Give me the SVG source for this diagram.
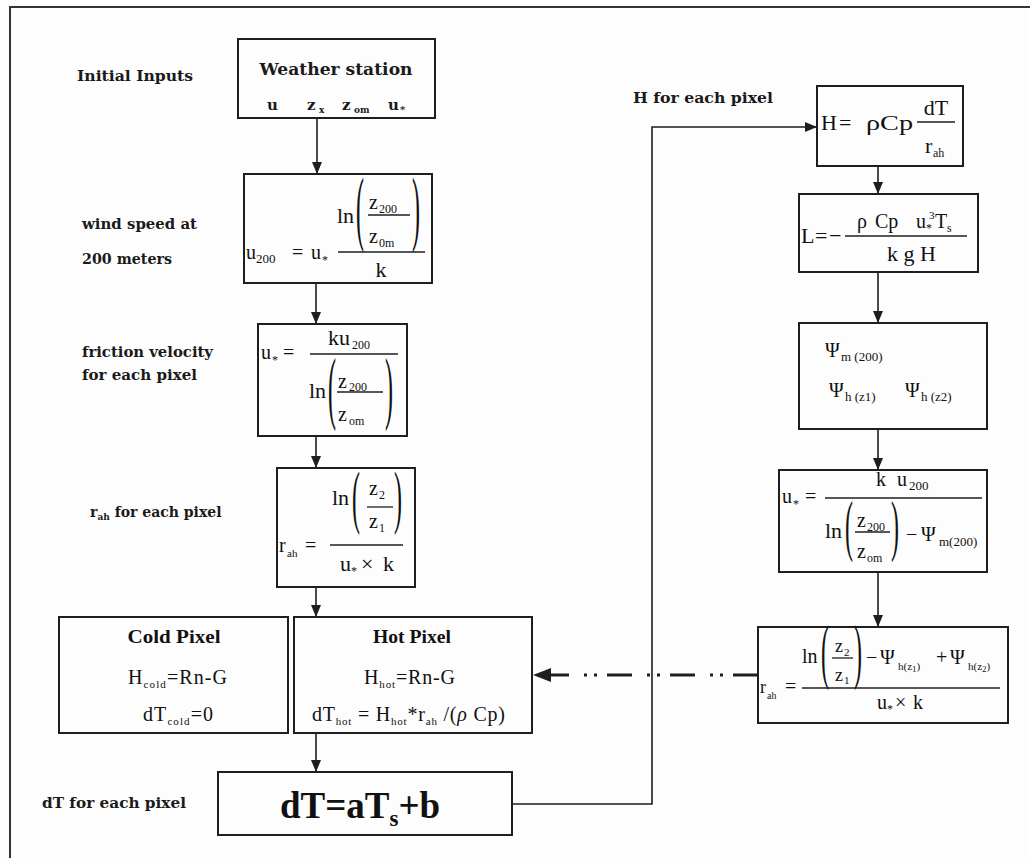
<svg xmlns="http://www.w3.org/2000/svg" width="1030" height="858" viewBox="0 0 1030 858">
<style>
.bx{fill:none;stroke:#1e1e1e;stroke-width:2}
.fb{stroke:#1e1e1e;stroke-width:1.3}
.cn{fill:none;stroke:#1e1e1e;stroke-width:1.6}
.lb{font-family:"DejaVu Serif",serif;font-weight:bold;font-size:14px;fill:#1a1a1a}
.m{font-family:"Liberation Serif","Times New Roman",serif;fill:#111}
.b{font-weight:bold}
.p{font-size:24px}
.f9{font-size:9px}.f10{font-size:10px}.f11{font-size:11px}.f12{font-size:12px}.f13{font-size:13px}.f15{font-size:15px}.f17{font-size:17px}.f18{font-size:18px}.f19{font-size:19px}.f20{font-size:20px}.f22{font-size:22px}.f37{font-size:37px}
</style>
<defs>
<marker id="a" viewBox="0 0 12 10" refX="12" refY="5" markerWidth="12" markerHeight="10" markerUnits="userSpaceOnUse" orient="auto"><path d="M0,0 L12,5 L0,10 z" fill="#1e1e1e"/></marker>
<marker id="ab" viewBox="0 0 18 14" refX="0" refY="7" markerWidth="18" markerHeight="14" markerUnits="userSpaceOnUse" orient="auto"><path d="M0,0 L18,7 L0,14 z" fill="#1e1e1e"/></marker>
</defs>
<rect width="1030" height="858" fill="#fdfdfd"/>
<path d="M10,858 V7 H1030" fill="none" stroke="#333" stroke-width="2"/>

<g id="labels">
<text class="lb" x="77" y="81" textLength="116" lengthAdjust="spacingAndGlyphs">Initial Inputs</text>
<text class="lb" x="82" y="229" textLength="115" lengthAdjust="spacingAndGlyphs">wind speed at</text>
<text class="lb" x="82" y="264" textLength="90" lengthAdjust="spacingAndGlyphs">200 meters</text>
<text class="lb" x="82" y="357" textLength="131" lengthAdjust="spacingAndGlyphs">friction velocity</text>
<text class="lb" x="82" y="380" textLength="115" lengthAdjust="spacingAndGlyphs">for each pixel</text>
<text class="lb" x="90" y="517">r<tspan class="f9" dy="3">ah</tspan><tspan dy="-3"> for each pixel</tspan></text>
<text class="lb" x="42" y="808" textLength="144" lengthAdjust="spacingAndGlyphs">dT for each pixel</text>
<text class="lb" x="633" y="103" textLength="140" lengthAdjust="spacingAndGlyphs">H  for each pixel</text>
</g>

<g id="connectors">
<line class="cn" x1="317" y1="118" x2="317" y2="174" marker-end="url(#a)"/>
<line class="cn" x1="316" y1="283" x2="316" y2="324" marker-end="url(#a)"/>
<line class="cn" x1="316" y1="436" x2="316" y2="468" marker-end="url(#a)"/>
<line class="cn" x1="316" y1="587" x2="316" y2="617" marker-end="url(#a)"/>
<line class="cn" x1="316" y1="733" x2="316" y2="772" marker-end="url(#a)"/>
<polyline class="cn" points="512,804 652,804 652,127 817,127" marker-end="url(#a)"/>
<line class="cn" x1="878" y1="166" x2="878" y2="194" marker-end="url(#a)"/>
<line class="cn" x1="878" y1="272" x2="878" y2="323" marker-end="url(#a)"/>
<line class="cn" x1="878" y1="429" x2="878" y2="470" marker-end="url(#a)"/>
<line class="cn" x1="878" y1="572" x2="878" y2="627" marker-end="url(#a)"/>
<path d="M758,675 L551,675" fill="none" stroke="#1e1e1e" stroke-width="3" stroke-dasharray="25 10 3 7 3 15" marker-end="url(#ab)"/>
</g>

<g id="weather">
<rect class="bx" x="238" y="39" width="197" height="79"/>
<text class="lb f17" x="336" y="75" text-anchor="middle" textLength="153" lengthAdjust="spacingAndGlyphs">Weather station</text>
<text class="lb f15" x="267" y="110">u</text>
<text class="lb f15" x="307" y="110">z</text><text class="lb f9" x="319" y="113">x</text>
<text class="lb f15" x="342" y="110">z</text><text class="lb f9" x="354" y="113">om</text>
<text class="lb f15" x="388" y="110">u</text><text class="lb f10" x="400" y="113">*</text>
</g>

<g id="u200">
<rect class="bx" x="244" y="174" width="188" height="109"/>
<text class="m f20" x="246" y="259">u</text><text class="m f13" x="256" y="263">200</text>
<text class="m f20" x="292" y="259">=</text>
<text class="m f20" x="311" y="259">u</text><text class="m f12" x="322" y="264">*</text>
<line class="fb" x1="338" y1="252" x2="425" y2="252"/>
<text class="m f22" x="337" y="223">ln</text>
<text class="m p" transform="translate(356,235) scale(1,3.41)">(</text>
<text class="m p" transform="translate(412,235) scale(1,3.41)">)</text>
<text class="m f20" x="369" y="209">z</text><text class="m f12" x="379" y="213">200</text>
<line class="fb" x1="368" y1="215" x2="410" y2="215"/>
<text class="m f20" x="369" y="243">z</text><text class="m f12" x="379" y="247">0m</text>
<text class="m f22" x="381" y="277" text-anchor="middle">k</text>
</g>

<g id="ustar">
<rect class="bx" x="258" y="324" width="149" height="112"/>
<text class="m f20" x="261" y="359">u</text><text class="m f12" x="272" y="364">*</text>
<text class="m f20" x="283" y="359">=</text>
<line class="fb" x1="310" y1="354" x2="398" y2="354"/>
<text class="m f22" x="328" y="345">ku</text><text class="m f12" x="352" y="349">200</text>
<text class="m f22" x="309" y="398">ln</text>
<text class="m p" transform="translate(328,414) scale(1,3.32)">(</text>
<text class="m p" transform="translate(385,414) scale(1,3.32)">)</text>
<text class="m f20" x="338" y="388">z</text><text class="m f12" x="349" y="391">200</text>
<line class="fb" x1="337" y1="392" x2="383" y2="392"/>
<text class="m f20" x="338" y="421">z</text><text class="m f12" x="349" y="425">om</text>
</g>

<g id="rah">
<rect class="bx" x="277" y="468" width="138" height="119"/>
<text class="m f22" x="332" y="505">ln</text>
<text class="m p" transform="translate(352,520) scale(1,2.88)">(</text>
<text class="m p" transform="translate(394,520) scale(1,2.88)">)</text>
<text class="m f20" x="369" y="495">z</text><text class="m f12" x="379" y="499">2</text>
<line class="fb" x1="367" y1="507" x2="393" y2="507"/>
<text class="m f20" x="369" y="528">z</text><text class="m f12" x="379" y="532">1</text>
<line class="fb" x1="330" y1="545" x2="403" y2="545"/>
<text class="m f20" x="279" y="552">r</text><text class="m f11" x="287" y="557">ah</text>
<text class="m f20" x="305" y="552">=</text>
<text class="m f22" x="340" y="571">u</text><text class="m f12" x="351" y="575">*</text>
<text class="m f22" x="361" y="571">×</text>
<text class="m f22" x="383" y="571">k</text>
</g>

<g id="coldhot">
<rect class="bx" x="59" y="617" width="229" height="116"/>
<rect class="bx" x="294" y="617" width="238" height="116"/>
<text class="m b f18" x="174" y="643" text-anchor="middle" textLength="93" lengthAdjust="spacingAndGlyphs">Cold Pixel</text>
<text class="m b f18" x="412" y="643" text-anchor="middle" textLength="78" lengthAdjust="spacingAndGlyphs">Hot Pixel</text>
<text class="m f20" x="128" y="684" textLength="99" lengthAdjust="spacing">H<tspan class="f11" dy="4">cold</tspan><tspan dy="-4">=Rn-G</tspan></text>
<text class="m f20" x="143" y="721" textLength="70" lengthAdjust="spacing">dT<tspan class="f11" dy="4">cold</tspan><tspan dy="-4">=0</tspan></text>
<text class="m f20" x="364" y="684" textLength="91" lengthAdjust="spacing">H<tspan class="f11" dy="4">hot</tspan><tspan dy="-4">=Rn-G</tspan></text>
<text class="m f20" x="312" y="721" textLength="193" lengthAdjust="spacing">dT<tspan class="f11" dy="4">hot</tspan><tspan dy="-4"> = H</tspan><tspan class="f11" dy="4">hot</tspan><tspan dy="-4">*r</tspan><tspan class="f11" dy="4">ah</tspan><tspan dy="-4"> /(</tspan><tspan font-style="italic">ρ</tspan><tspan> Cp)</tspan></text>
</g>

<g id="dT">
<rect class="bx" x="218" y="772" width="294" height="63"/>
<text class="m b f37" x="280" y="818">dT=aT<tspan style="font-size:23px" dy="8">s</tspan><tspan dy="-8">+b</tspan></text>
</g>

<g id="H">
<rect class="bx" x="817" y="86" width="146" height="80"/>
<text class="m f22" x="821" y="130">H</text>
<text class="m f22" x="839" y="130">=</text>
<text class="m f22" x="866" y="130" textLength="47" lengthAdjust="spacingAndGlyphs">ρCp</text>
<line class="fb" x1="917" y1="122" x2="955" y2="122"/>
<text class="m f22" x="936" y="115" text-anchor="middle">dT</text>
<text class="m f22" x="925" y="153">r</text><text class="m f12" x="933" y="157">ah</text>
</g>

<g id="L">
<rect class="bx" x="799" y="194" width="179" height="78"/>
<text class="m f22" x="801" y="243">L</text>
<text class="m f22" x="815" y="243">=</text>
<text class="m f22" x="829" y="243">−</text>
<line class="fb" x1="845" y1="236" x2="967" y2="236"/>
<text class="m f20" x="857" y="228">ρ</text>
<text class="m f20" x="875" y="228">Cp</text>
<text class="m f20" x="916" y="228">u</text><text class="m f12" x="926" y="232">*</text>
<text class="m f11" x="929" y="219">3</text>
<text class="m f20" x="935" y="228">T</text><text class="m f12" x="947" y="232">s</text>
<text class="m f22" x="887" y="261">k g H</text>
</g>

<g id="psi">
<rect class="bx" x="799" y="323" width="188" height="106"/>
<text class="m f20" x="825" y="357">Ψ</text><text class="m f13" x="841" y="361">m (200)</text>
<text class="m f20" x="829" y="397">Ψ</text><text class="m f13" x="845" y="401">h (z1)</text>
<text class="m f20" x="905" y="397">Ψ</text><text class="m f13" x="921" y="401">h (z2)</text>
</g>

<g id="ustar2">
<rect class="bx" x="779" y="470" width="208" height="102"/>
<text class="m f20" x="782" y="503">u</text><text class="m f12" x="793" y="508">*</text>
<text class="m f20" x="805" y="503">=</text>
<line class="fb" x1="825" y1="498" x2="982" y2="498"/>
<text class="m f20" x="876" y="486">k</text>
<text class="m f20" x="897" y="486">u</text><text class="m f13" x="909" y="490">200</text>
<text class="m f22" x="825" y="538">ln</text>
<text class="m p" transform="translate(845,548) scale(1,2.83)">(</text>
<text class="m p" transform="translate(891,548) scale(1,2.83)">)</text>
<text class="m f20" x="857" y="527">z</text><text class="m f12" x="867" y="531">200</text>
<line class="fb" x1="855" y1="532" x2="890" y2="532"/>
<text class="m f20" x="857" y="558">z</text><text class="m f12" x="867" y="562">om</text>
<text class="m f20" x="906" y="541">−</text>
<text class="m f20" x="921" y="541">Ψ</text><text class="m f13" x="939" y="546">m(200)</text>
</g>

<g id="rah2">
<rect class="bx" x="758" y="627" width="250" height="96"/>
<text class="m f20" x="802" y="663">ln</text>
<text class="m p" transform="translate(821,675) scale(1,2.98)">(</text>
<text class="m p" transform="translate(854,675) scale(1,2.98)">)</text>
<text class="m f18" x="835" y="652">z</text><text class="m f11" x="844" y="656">2</text>
<line class="fb" x1="832" y1="658" x2="853" y2="658"/>
<text class="m f18" x="835" y="681">z</text><text class="m f11" x="844" y="684">1</text>
<text class="m f20" x="866" y="664">−</text>
<text class="m f20" x="880" y="664">Ψ</text><text class="m f11" x="898" y="670">h(z<tspan class="f9" dy="2">1</tspan><tspan dy="-2">)</tspan></text>
<text class="m f20" x="936" y="664">+</text>
<text class="m f20" x="950" y="664">Ψ</text><text class="m f11" x="968" y="670">h(z<tspan class="f9" dy="2">2</tspan><tspan dy="-2">)</tspan></text>
<line class="fb" x1="802" y1="688" x2="1000" y2="688"/>
<text class="m f18" x="760" y="693">r</text><text class="m f10" x="767" y="699">ah</text>
<text class="m f20" x="785" y="693">=</text>
<text class="m f20" x="877" y="709">u</text><text class="m f12" x="887" y="713">*</text>
<text class="m f20" x="895" y="709">×</text>
<text class="m f20" x="913" y="709">k</text>
</g>
</svg>
